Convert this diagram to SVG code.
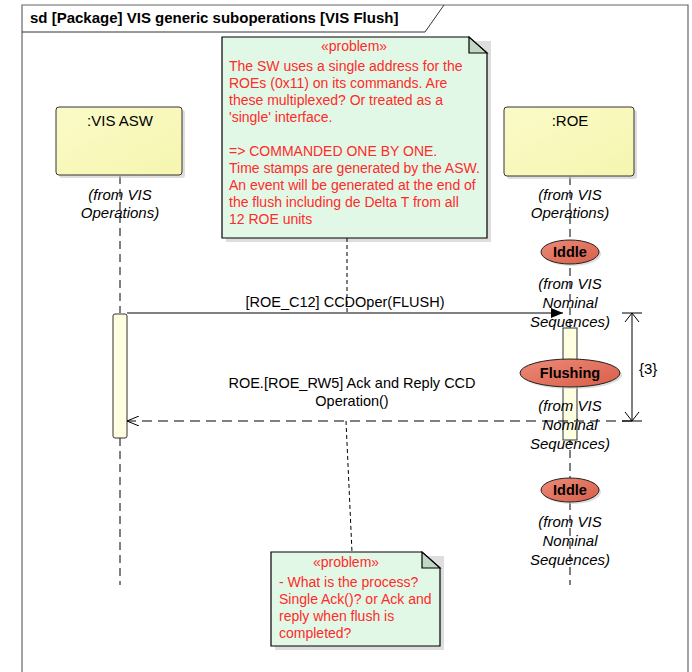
<svg xmlns="http://www.w3.org/2000/svg" width="692" height="672" viewBox="0 0 692 672">
<style>
.t{font-family:"Liberation Sans",Arial,sans-serif;font-size:14.5px;fill:#000}
.h{font-family:"Liberation Sans",Arial,sans-serif;font-size:15px;fill:#000}
.it{font-family:"Liberation Sans",Arial,sans-serif;font-size:15px;font-style:italic;fill:#000}
.nt{font-family:"Liberation Sans",Arial,sans-serif;font-size:14px;fill:#ff2a2a}
.st{font-family:"Liberation Sans",Arial,sans-serif;font-size:14.5px;font-weight:bold;fill:#000}
.ll{stroke:#000;stroke-width:1;stroke-dasharray:8 5;fill:none}
.head{fill:url(#yel);stroke:#333;stroke-width:1}
.act{fill:#fefee0;stroke:#333;stroke-width:1}
.note{fill:#e2f8e6;stroke:#000;stroke-width:1.2}
.fold{fill:#c2d8c6;stroke:#000;stroke-width:1.2}
.state{fill:url(#red);stroke:#222;stroke-width:1}
.shadow{fill:#c8c8c8;opacity:.6}
.ln{stroke:#000;stroke-width:1;fill:none}
</style>
<defs>
<linearGradient id="yel" x1="0" y1="0" x2="1" y2="1">
<stop offset="0" stop-color="#fafac8"/><stop offset="1" stop-color="#f6f6b0"/>
</linearGradient>
<linearGradient id="red" x1="0" y1="0" x2="1" y2="1">
<stop offset="0" stop-color="#ec8a78"/><stop offset="1" stop-color="#d85e48"/>
</linearGradient>
<marker id="fill" viewBox="0 0 12 10" refX="12" refY="5" markerWidth="12" markerHeight="10" markerUnits="userSpaceOnUse" orient="auto">
<path d="M0,0 L12,5 L0,10 Z" fill="#000"/>
</marker>
<marker id="open" viewBox="0 0 12 10" refX="12" refY="5" markerWidth="12" markerHeight="10" markerUnits="userSpaceOnUse" orient="auto">
<path d="M0,0 L12,5 L0,10" fill="none" stroke="#000" stroke-width="1"/>
</marker>
</defs>
<rect width="692" height="672" fill="#fff"/>
<g id="frame">
<path d="M22,672 V5 H688 V672" fill="none" stroke="#666" stroke-width="1.2"/>
<path d="M22,32 H425 L444,5" fill="none" stroke="#333" stroke-width="1"/>
<text class="st" x="30" y="23" style="font-size:15px">sd [Package] VIS generic suboperations [VIS Flush]</text>
</g>
<g id="lifelines">
<line class="ll" x1="120" y1="176" x2="120" y2="313"/>
<line class="ll" x1="120" y1="438" x2="120" y2="585"/>
<line class="ll" x1="570" y1="177" x2="570" y2="585"/>
</g>
<g id="visasw">
<rect x="59" y="110" width="126" height="68" rx="3" class="shadow"/>
<rect x="56" y="107" width="126" height="68" rx="3" class="head"/>
<text class="h" x="120" y="126" text-anchor="middle">:VIS ASW</text>
<text class="it" x="120" y="200" text-anchor="middle">(from VIS</text>
<text class="it" x="120" y="218" text-anchor="middle">Operations)</text>
<rect x="113" y="314" width="14" height="124" rx="2" class="act"/>
</g>
<g id="roe">
<rect x="507" y="110" width="130" height="69" rx="3" class="shadow"/>
<rect x="504" y="107" width="130" height="69" rx="3" class="head"/>
<text class="h" x="570" y="126" text-anchor="middle">:ROE</text>
<text class="it" x="570" y="200" text-anchor="middle">(from VIS</text>
<text class="it" x="570" y="218" text-anchor="middle">Operations)</text>
<rect x="563" y="328" width="14" height="112" class="act"/>
</g>
<g id="iddle1">
<ellipse cx="572" cy="254" rx="29" ry="12" class="shadow"/>
<ellipse cx="570" cy="252" rx="29" ry="12" class="state"/>
<text class="st" x="570" y="257" text-anchor="middle">Iddle</text>
<text class="it" x="570" y="289" text-anchor="middle">(from VIS</text>
<text class="it" x="570" y="308" text-anchor="middle">Nominal</text>
<text class="it" x="570" y="327" text-anchor="middle">Sequences)</text>
</g>
<g id="flushing">
<ellipse cx="572" cy="375" rx="50" ry="14" class="shadow"/>
<ellipse cx="570" cy="373" rx="50" ry="14" class="state"/>
<text class="st" x="570" y="378" text-anchor="middle">Flushing</text>
<text class="it" x="570" y="411" text-anchor="middle">(from VIS</text>
<text class="it" x="570" y="430" text-anchor="middle">Nominal</text>
<text class="it" x="570" y="449" text-anchor="middle">Sequences)</text>
</g>
<g id="iddle2">
<ellipse cx="572" cy="492" rx="29" ry="12" class="shadow"/>
<ellipse cx="570" cy="490" rx="29" ry="12" class="state"/>
<text class="st" x="570" y="495" text-anchor="middle">Iddle</text>
<text class="it" x="570" y="527" text-anchor="middle">(from VIS</text>
<text class="it" x="570" y="546" text-anchor="middle">Nominal</text>
<text class="it" x="570" y="565" text-anchor="middle">Sequences)</text>
</g>
<g id="note1">
<path d="M226,41 H491 V242 H226 Z" class="shadow"/>
<path d="M222,37 H469 L487,53 V238 H222 Z" class="note"/>
<path d="M469,37 V53 H487 Z" class="fold"/>
<text class="nt" x="354" y="51" text-anchor="middle">«problem»</text>
<text class="nt" x="229" y="71">The SW uses a single address for the</text>
<text class="nt" x="229" y="88">ROEs (0x11) on its commands. Are</text>
<text class="nt" x="229" y="105">these multiplexed? Or treated as a</text>
<text class="nt" x="229" y="122">'single' interface.</text>
<text class="nt" x="229" y="156">=&gt; COMMANDED ONE BY ONE.</text>
<text class="nt" x="229" y="173">Time stamps are generated by the ASW.</text>
<text class="nt" x="229" y="190">An event will be generated at the end of</text>
<text class="nt" x="229" y="207">the flush including de Delta T from all</text>
<text class="nt" x="229" y="224">12 ROE units</text>
</g>
<g id="note2">
<path d="M275,556 H444 V650 H275 Z" class="shadow"/>
<path d="M271,552 H422 L440,568 V646 H271 Z" class="note"/>
<path d="M422,552 V568 H440 Z" class="fold"/>
<text class="nt" x="346" y="567" text-anchor="middle">«problem»</text>
<text class="nt" x="279" y="587">- What is the process?</text>
<text class="nt" x="279" y="604">Single Ack()? or Ack and</text>
<text class="nt" x="279" y="621">reply when flush is</text>
<text class="nt" x="279" y="638">completed?</text>
</g>
<g id="connectors">
<line x1="127" y1="313" x2="563" y2="313" stroke="#000" stroke-width="1" marker-end="url(#fill)"/>
<text class="t" x="345" y="307" text-anchor="middle">[ROE_C12] CCDOper(FLUSH)</text>
<line x1="632" y1="421" x2="127" y2="421" stroke="#000" stroke-width="1" stroke-dasharray="10 6" marker-end="url(#open)"/>
<text class="t" x="352" y="388" text-anchor="middle">ROE.[ROE_RW5] Ack and Reply CCD</text>
<text class="t" x="352" y="406" text-anchor="middle">Operation()</text>
<line x1="347" y1="238" x2="347" y2="313" stroke="#000" stroke-width="1" stroke-dasharray="4 3"/>
<line x1="346" y1="421" x2="352" y2="552" stroke="#000" stroke-width="1" stroke-dasharray="4 3"/>
<path class="ln" d="M632,313 V421 M622,313 H642 M622,421 H642 M625,322 L632,313 L639,322 M625,412 L632,421 L639,412"/>
<text class="h" x="639" y="374">{3}</text>
</g>
</svg>
